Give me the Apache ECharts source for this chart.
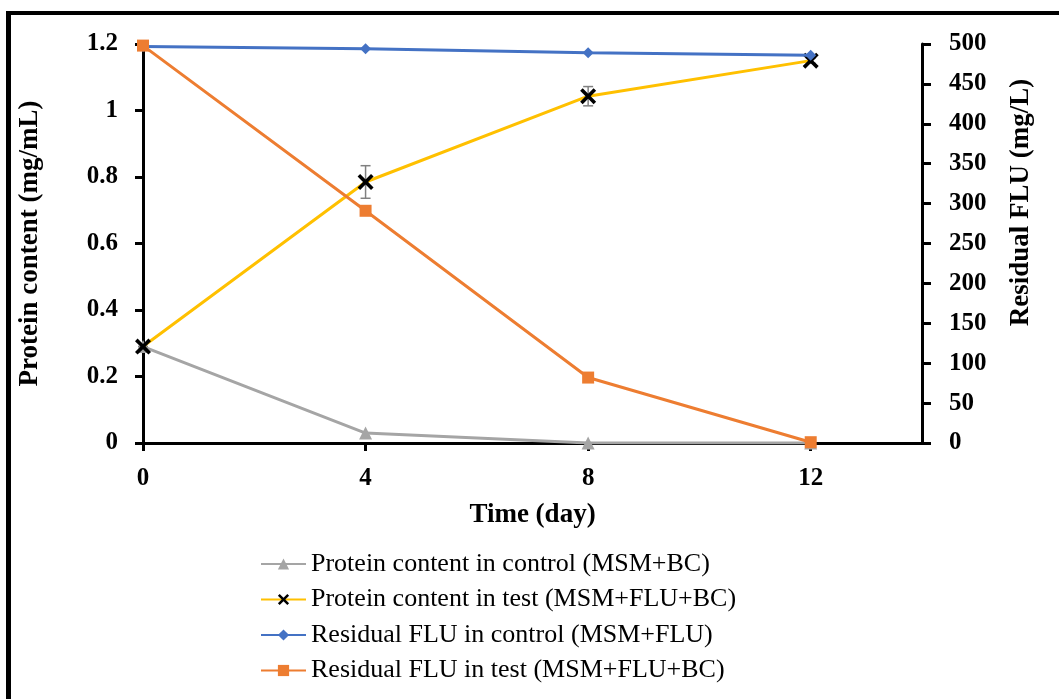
<!DOCTYPE html>
<html>
<head>
<meta charset="utf-8">
<script src="https://cdn.jsdelivr.net/npm/echarts@6/dist/echarts.min.js"></script>
<style>
html,body{margin:0;padding:0;background:#fff;}
#c{width:1059px;height:699px;}
</style>
</head>
<body>
<div id="c"></div>
<script>
// ---- data ----
const days = [0, 4, 8, 12];
const proteinControl = [0.29, 0.03, 0.0, 0.0];
const proteinTest = [0.29, 0.785, 1.043, 1.15];
const proteinTestErr = [0.0, 0.049, 0.029, 0.008];
const fluControl = [497, 494, 489, 486];
const fluTest = [498, 291, 82, 1];
const leftTicks = [0, 0.2, 0.4, 0.6, 0.8, 1, 1.2];
const rightTicks = [0, 50, 100, 150, 200, 250, 300, 350, 400, 450, 500];
const xTicks = [0, 4, 8, 12];
const seriesNames = [
  'Protein content in control (MSM+BC)',
  'Protein content in test (MSM+FLU+BC)',
  'Residual FLU in control (MSM+FLU)',
  'Residual FLU in test (MSM+FLU+BC)'
];

const FONT = '"Liberation Serif", "Times New Roman", serif';
const pair = (xs, ys) => xs.map((x, i) => [x, ys[i]]);
const errData = days.map((d, i) => [d, proteinTest[i] - proteinTestErr[i], proteinTest[i] + proteinTestErr[i]]);
const xPath = 'path://M0,1.6 L1.6,0 L5,3.4 L8.4,0 L10,1.6 L6.6,5 L10,8.4 L8.4,10 L5,6.6 L1.6,10 L0,8.4 L3.4,5 Z';

const axisLbl = {fontFamily: FONT, fontWeight: 'bold', fontSize: 25, color: '#000'};
const axisNameStyle = {fontFamily: FONT, fontWeight: 'bold', fontSize: 27, color: '#000'};

const chart = echarts.init(document.getElementById('c'), null, {renderer: 'canvas'});
chart.setOption({
  backgroundColor: '#fff',
  animation: false,
  graphic: [
    {type: 'rect', shape: {x: 6, y: 11, width: 5, height: 700}, style: {fill: '#000'}, silent: true},
    {type: 'rect', shape: {x: 6, y: 11, width: 1060, height: 4}, style: {fill: '#000'}, silent: true}
  ],
  grid: {left: 143, right: 137, top: 44, bottom: 256, containLabel: false},
  legend: {
    orient: 'vertical',
    left: 255,
    top: 546,
    itemWidth: 45,
    itemHeight: 14,
    itemGap: 9.5,
    data: seriesNames,
    textStyle: {fontFamily: FONT, fontSize: 26, color: '#000', lineHeight: 25}
  },
  xAxis: {
    type: 'value',
    min: 0, max: 14, interval: 4,
    name: 'Time (day)',
    nameLocation: 'middle',
    nameGap: 59,
    nameTextStyle: axisNameStyle,
    axisLine: {show: true, onZero: false, lineStyle: {color: '#000', width: 3}},
    axisTick: {show: true, length: 8, lineStyle: {color: '#000', width: 3},
      customValues: xTicks},
    axisLabel: Object.assign({margin: 23, customValues: xTicks,
      formatter: v => (xTicks.indexOf(v) >= 0 ? String(v) : '')}, axisLbl),
    splitLine: {show: false}
  },
  yAxis: [
    {
      type: 'value', min: 0, max: 1.2, interval: 0.2,
      name: 'Protein content (mg/mL)',
      nameLocation: 'middle', nameRotate: 90, nameGap: 99,
      nameTextStyle: axisNameStyle,
      axisLine: {show: true, lineStyle: {color: '#000', width: 3}},
      axisTick: {show: true, length: 8, lineStyle: {color: '#000', width: 3}},
      axisLabel: Object.assign({margin: 25,
        formatter: v => { const r = Math.round(v * 10) / 10; return leftTicks.indexOf(r) >= 0 ? String(r) : ''; }}, axisLbl),
      splitLine: {show: false}
    },
    {
      type: 'value', min: 0, max: 500, interval: 50,
      name: 'Residual FLU (mg/L)',
      nameLocation: 'middle', nameRotate: 90, nameGap: 86,
      nameTextStyle: Object.assign({padding: [0, 0, 0, 82]}, axisNameStyle),
      axisLine: {show: true, lineStyle: {color: '#000', width: 3}},
      axisTick: {show: true, length: 9, lineStyle: {color: '#000', width: 3}},
      axisLabel: Object.assign({margin: 27,
        formatter: v => (rightTicks.indexOf(v) >= 0 ? String(v) : '')}, axisLbl),
      splitLine: {show: false}
    }
  ],
  series: [
    {
      name: seriesNames[0], type: 'line', yAxisIndex: 0,
      data: pair(days, proteinControl),
      symbol: 'triangle', symbolSize: 13,
      lineStyle: {color: '#A5A5A5', width: 3},
      itemStyle: {color: '#A5A5A5'}
    },
    {
      name: 'errbars', type: 'custom', yAxisIndex: 0,
      data: errData,
      z: 3,
      renderItem: function (params, api) {
        const x = api.value(0);
        const lo = api.coord([x, api.value(1)]);
        const hi = api.coord([x, api.value(2)]);
        const cap = 5;
        const st = {stroke: '#808080', lineWidth: 1.5};
        return {type: 'group', children: [
          {type: 'line', shape: {x1: lo[0], y1: lo[1], x2: hi[0], y2: hi[1]}, style: st},
          {type: 'line', shape: {x1: lo[0] - cap, y1: lo[1], x2: lo[0] + cap, y2: lo[1]}, style: st},
          {type: 'line', shape: {x1: hi[0] - cap, y1: hi[1], x2: hi[0] + cap, y2: hi[1]}, style: st}
        ]};
      },
      silent: true
    },
    {
      name: seriesNames[1], type: 'line', yAxisIndex: 0,
      data: pair(days, proteinTest),
      symbol: xPath, symbolSize: 16,
      lineStyle: {color: '#FFC000', width: 3},
      itemStyle: {color: '#000'},
      z: 4
    },
    {
      name: seriesNames[2], type: 'line', yAxisIndex: 1,
      data: pair(days, fluControl),
      symbol: 'diamond', symbolSize: 11,
      lineStyle: {color: '#4472C4', width: 3},
      itemStyle: {color: '#4472C4'},
      z: 5
    },
    {
      name: seriesNames[3], type: 'line', yAxisIndex: 1,
      data: pair(days, fluTest),
      symbol: 'rect', symbolSize: 12,
      lineStyle: {color: '#ED7D31', width: 3},
      itemStyle: {color: '#ED7D31'},
      z: 6
    }
  ]
});
</script>
</body>
</html>
